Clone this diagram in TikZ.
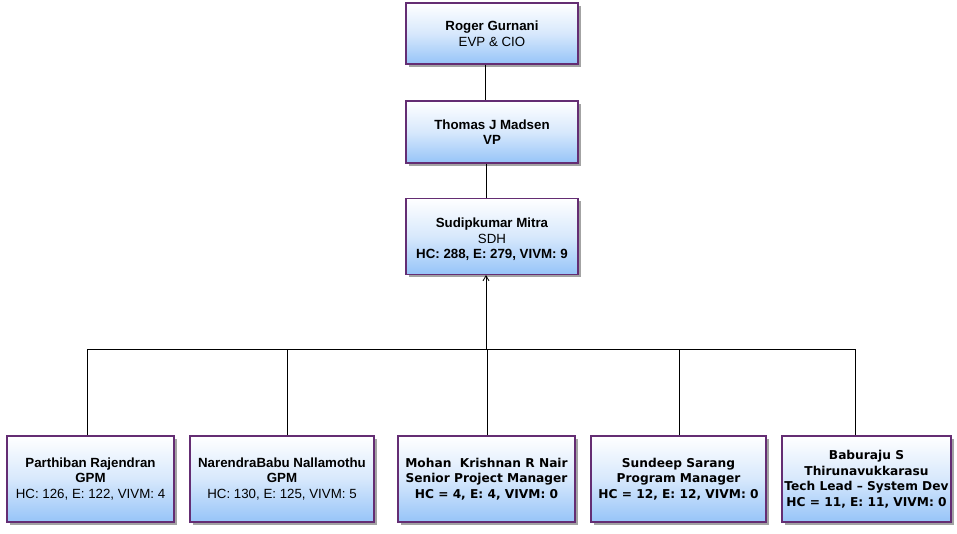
\documentclass[tikz,border=0pt]{standalone}
\usepackage{fontspec}
\setmainfont{Liberation Sans}
\newfontfamily\tahoma{DejaVu Sans}
\usetikzlibrary{arrows.meta,shadows}
\definecolor{boxborder}{RGB}{100,45,115}
\definecolor{boxblue}{RGB}{150,196,248}
\definecolor{boxmid}{RGB}{215,232,252}
\tikzset{
  person/.style={rectangle, draw=boxborder, line width=1.1pt,
    top color=white, bottom color=boxblue, middle color=boxmid,
    drop shadow={shadow xshift=2.5pt, shadow yshift=-2.5pt, fill=black!45, opacity=0.8},
    align=center, inner sep=1pt, font=\fontsize{13.3}{15.5}\selectfont},
  tperson/.style={person, font=\tahoma\bfseries\fontsize{12.2}{15.5}\selectfont},
  ptext/.style={align=center, inner sep=1pt, font=\fontsize{13.3}{15.5}\selectfont},
  link/.style={draw=black, line width=0.8pt}
}
\begin{document}
\begin{tikzpicture}[x=1pt,y=-1pt]
\useasboundingbox (0,0) rectangle (957,533);
\node[person, minimum width=172pt, minimum height=61pt] (r) at (492,33.5)
  {\textbf{Roger Gurnani}\\EVP \& CIO};
\node[person, minimum width=172pt, minimum height=62pt] (t) at (492,132)
  {\textbf{Thomas J Madsen}\\\textbf{VP}};
\node[person, minimum width=172pt, minimum height=76pt] (s) at (492,236.5) {};
\node[ptext] (stext) at ([yshift=-3pt]s.center)
  {\textbf{Sudipkumar Mitra}\\SDH\\\textbf{HC: 288, E: 279, VIVM: 9}};
\node[person, minimum width=167pt, minimum height=86pt] (b1) at (90.5,479)
  {\textbf{Parthiban Rajendran}\\\textbf{GPM}\\HC: 126, E: 122, VIVM: 4};
\node[person, minimum width=184pt, minimum height=86pt] (b2) at (282,479)
  {\textbf{NarendraBabu Nallamothu}\\\textbf{GPM}\\HC: 130, E: 125, VIVM: 5};
\node[tperson, minimum width=177pt, minimum height=86pt] (b3) at (486.5,479)
  {Mohan\ \ Krishnan R Nair\\Senior Project Manager\\HC = 4, E: 4, VIVM:\ 0};
\node[tperson, minimum width=175pt, minimum height=86pt] (b4) at (678.5,479)
  {Sundeep Sarang\\Program Manager\\HC = 12, E: 12, VIVM:\ 0};
\node[tperson, minimum width=169pt, minimum height=86pt] (b5) at (866.5,479)
  {Baburaju S\\Thirunavukkarasu\\Tech Lead – System Dev\\HC = 11, E: 11, VIVM:\ 0};
\coordinate (bus) at (486,349);
\draw[link] ([xshift=-7pt]r.south) -- ([xshift=-7pt]t.north);
\draw[link] ([xshift=-6pt]t.south) -- ([xshift=-6pt]s.north);
\draw[link, -{Straight Barb[length=5pt,width=6pt]}] (bus) -- (bus |- s.south);
\draw[link] ([xshift=-3.5pt]b1.north) |- (bus);
\draw[link] ([xshift=5pt]b2.north) |- (bus);
\draw[link] ([xshift=0.5pt]b3.north) |- (bus);
\draw[link] ([xshift=0.5pt]b4.north) |- (bus);
\draw[link] ([xshift=-11.5pt]b5.north) |- (bus);
\end{tikzpicture}
\end{document}
